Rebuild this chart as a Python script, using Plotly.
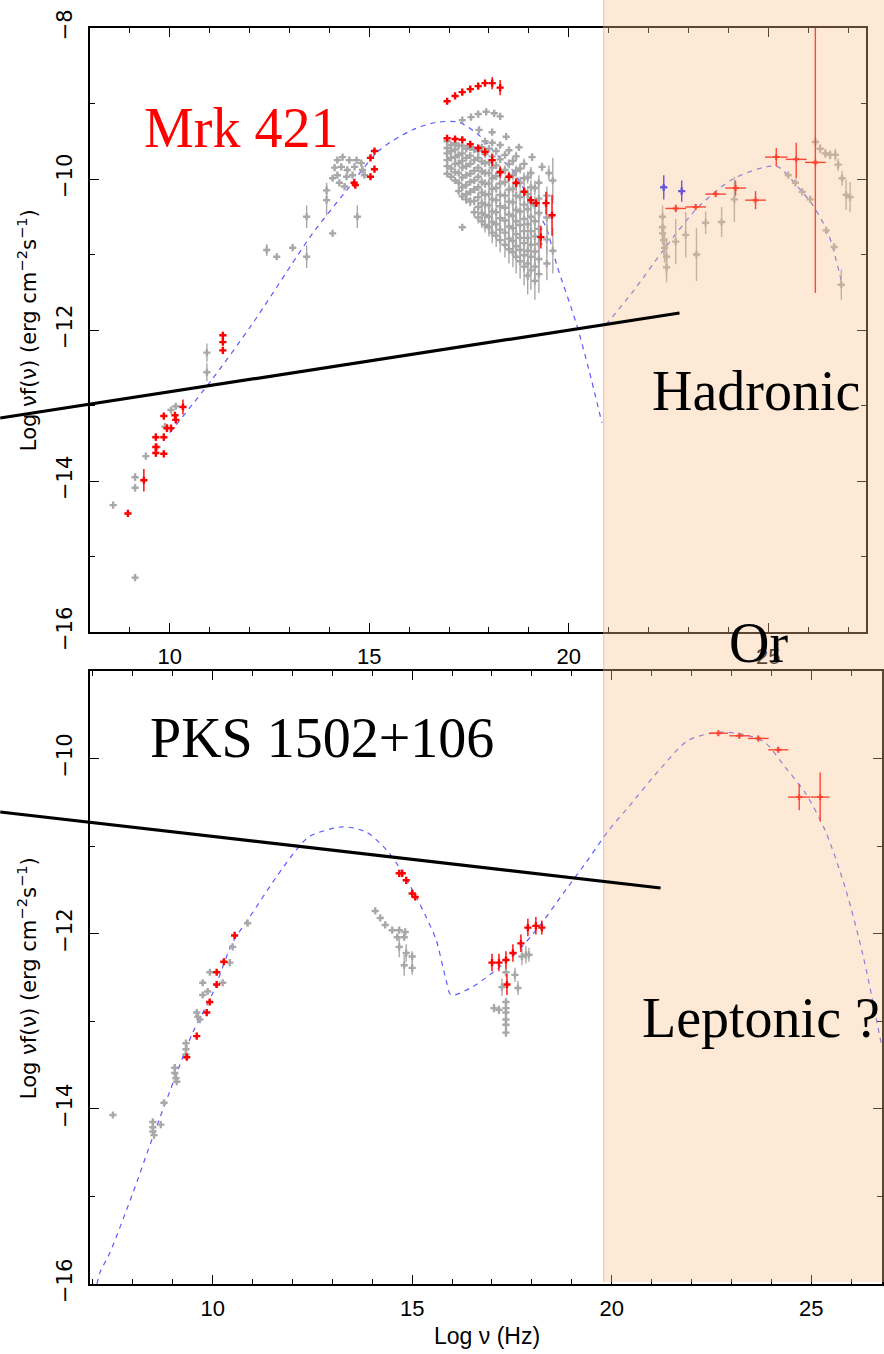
import plotly.graph_objects as go

W, H = 884, 1354
ML, MR, MT, MB = 90, 0, 28, 70
PW = W - ML - MR
PH = H - MT - MB


def px(xp):
    return (xp - ML) / PW


def py(yp):
    return (H - MB - yp) / PH


# ---------------- Mrk 421 (top panel) ----------------
# model curves (log nu, log nuFnu)
mrk_sync_x = [10.0, 11.08, 12.08, 13.18, 13.58, 14.43, 15.25, 16.08, 16.68, 17.25, 17.75,
              18.25, 18.58, 19.08, 19.43, 19.7, 20.18, 20.5, 20.83]
mrk_sync_y = [-13.36, -12.64, -11.91, -11.03, -10.72, -10.15, -9.62, -9.35, -9.25, -9.25, -9.42,
              -9.71, -9.88, -10.32, -10.64, -11.14, -11.9, -12.52, -13.23]
mrk_ic_x = [20.93, 21.58, 22.43, 23.25, 24.08, 24.93, 25.25, 25.75, 26.08, 26.5, 26.85]
mrk_ic_y = [-11.93, -11.51, -10.90, -10.37, -10.01, -9.84, -9.84, -10.11, -10.32, -10.72, -11.4]

# archival (grey) data: x, y, y-error
mrk_grey = [
    (8.58, -14.32, 0), (9.13, -13.95, 0.05), (9.13, -14.09, 0.05), (9.13, -15.28, 0),
    (9.4, -13.67, 0), (9.68, -13.55, 0), (9.88, -13.28, 0), (10.03, -13.06, 0), (10.15, -13.01, 0),
    (10.93, -12.3, 0.12), (10.93, -12.56, 0.12), (12.43, -10.94, 0.08), (12.68, -11.03, 0),
    (13.08, -10.91, 0), (13.43, -10.5, 0.15), (13.43, -11.03, 0.15), (13.93, -10.28, 0.2),
    (14.08, -10.72, 0), (14.7, -10.5, 0.15),
    (14.2, -9.75, 0.03), (14.33, -9.71, 0.03), (14.5, -9.75, 0.03), (14.68, -9.75, 0.03),
    (14.8, -9.79, 0.03), (14.13, -9.85, 0.03), (14.3, -9.84, 0.03), (14.45, -9.88, 0.03),
    (14.63, -9.84, 0.03), (14.83, -9.88, 0.03), (14.2, -9.95, 0.03), (14.43, -9.97, 0.03),
    (14.58, -9.95, 0.03), (14.25, -10.05, 0.03), (14.38, -10.1, 0.03), (14.08, -9.99, 0.03),
    (13.93, -10.15, 0.1), (14.88, -9.95, 0.03), (17.33, -10.64, 0),
    (17.33, -9.22, 0.02), (17.55, -9.18, 0.02), (17.73, -9.14, 0.02), (17.93, -9.11, 0.02),
    (18.13, -9.13, 0.02), (18.28, -9.17, 0.04),
    (17.75, -9.35, 0.03), (18.08, -9.38, 0.03), (18.43, -9.44, 0.03), (18.75, -9.58, 0.04),
    (19.08, -9.71, 0.05), (19.33, -9.84, 0.06), (19.5, -9.92, 0.1),
]
mrk_cloud_x = [
    16.95, 16.95, 16.95, 16.95, 16.95, 16.95,
    17.05, 17.05, 17.05, 17.05, 17.05,
    17.15, 17.15, 17.15, 17.15, 17.15, 17.15,
    17.24, 17.24, 17.24, 17.24, 17.24, 17.24,
    17.33, 17.33, 17.33, 17.33, 17.33, 17.33, 17.33,
    17.43, 17.43, 17.43, 17.43, 17.43, 17.43, 17.43,
    17.53, 17.53, 17.53, 17.53, 17.53, 17.53, 17.53,
    17.63, 17.63, 17.63, 17.63, 17.63, 17.63, 17.63,
    17.73, 17.73, 17.73, 17.73, 17.73, 17.73, 17.73, 17.73,
    17.82, 17.82, 17.82, 17.82, 17.82, 17.82, 17.82, 17.82,
    17.9, 17.9, 17.9, 17.9, 17.9, 17.9, 17.9, 17.9, 17.9,
    18.0, 18.0, 18.0, 18.0, 18.0, 18.0, 18.0, 18.0,
    18.08, 18.08, 18.08, 18.08, 18.08, 18.08, 18.08, 18.08, 18.08,
    18.18, 18.18, 18.18, 18.18, 18.18, 18.18, 18.18, 18.18,
    18.28, 18.28, 18.28, 18.28, 18.28, 18.28, 18.28, 18.28, 18.28,
    18.4, 18.4, 18.4, 18.4, 18.4, 18.4, 18.4, 18.4,
    18.5, 18.5, 18.5, 18.5, 18.5, 18.5, 18.5, 18.5, 18.5,
    18.6, 18.6, 18.6, 18.6, 18.6, 18.6, 18.6, 18.6,
    18.68, 18.68, 18.68, 18.68, 18.68, 18.68, 18.68, 18.68, 18.68,
    18.78, 18.78, 18.78, 18.78, 18.78, 18.78, 18.78, 18.78,
    18.88, 18.88, 18.88, 18.88, 18.88, 18.88, 18.88, 18.88, 18.88,
    18.97, 18.97, 18.97, 18.97, 18.97, 18.97, 18.97, 18.97,
    19.05, 19.05, 19.05, 19.05, 19.05, 19.05, 19.05, 19.05,
    19.15, 19.15, 19.15, 19.15, 19.15, 19.15, 19.15,
    19.25, 19.25, 19.25, 19.25, 19.25, 19.25, 19.25,
    19.45, 19.45, 19.45, 19.45, 19.6, 19.6,
]
mrk_cloud_y = [
    -9.50, -9.59, -9.66, -9.75, -9.83, -9.93,
    -9.55, -9.63, -9.72, -9.86, -9.97,
    -9.53, -9.61, -9.71, -9.80, -9.91, -10.02,
    -9.56, -9.68, -9.79, -9.92, -10.05, -10.16,
    -9.56, -9.66, -9.76, -9.85, -9.98, -10.11, -10.23,
    -9.60, -9.72, -9.83, -9.95, -10.08, -10.20, -10.27,
    -9.58, -9.69, -9.80, -9.93, -10.04, -10.17, -10.30,
    -9.61, -9.75, -9.89, -10.02, -10.14, -10.29, -10.44,
    -9.63, -9.72, -9.85, -9.97, -10.11, -10.24, -10.37, -10.51,
    -9.58, -9.77, -9.90, -10.04, -10.18, -10.32, -10.45, -10.56,
    -9.50, -9.67, -9.79, -9.92, -10.06, -10.21, -10.34, -10.48, -10.61,
    -9.60, -9.78, -9.92, -10.06, -10.20, -10.35, -10.50, -10.64,
    -9.52, -9.70, -9.85, -9.99, -10.13, -10.27, -10.43, -10.57, -10.71,
    -9.63, -9.82, -9.96, -10.12, -10.28, -10.44, -10.60, -10.75,
    -9.55, -9.74, -9.90, -10.06, -10.21, -10.36, -10.52, -10.67, -10.81,
    -9.68, -9.88, -10.04, -10.22, -10.38, -10.55, -10.71, -10.87,
    -9.62, -9.80, -9.97, -10.14, -10.30, -10.47, -10.63, -10.79, -10.93,
    -9.76, -9.95, -10.13, -10.31, -10.49, -10.65, -10.82, -10.97,
    -9.70, -9.89, -10.06, -10.22, -10.41, -10.56, -10.73, -10.89, -11.03,
    -9.86, -10.05, -10.24, -10.43, -10.61, -10.78, -10.94, -11.09,
    -9.80, -9.99, -10.16, -10.34, -10.53, -10.69, -10.85, -11.01, -11.16,
    -9.98, -10.20, -10.40, -10.60, -10.78, -10.95, -11.12, -11.28,
    -9.92, -10.11, -10.31, -10.50, -10.69, -10.87, -11.03, -11.21,
    -10.12, -10.35, -10.56, -10.76, -10.96, -11.16, -11.35,
    -10.05, -10.26, -10.45, -10.66, -10.86, -11.06, -11.26,
    -10.22, -10.51, -10.80, -11.12, -10.02, -10.95,
]
mrk_cloud_err = [
    0.03, 0.03, 0.03, 0.03, 0.03, 0.03,
    0.03, 0.03, 0.03, 0.03, 0.04,
    0.03, 0.03, 0.03, 0.03, 0.03, 0.04,
    0.03, 0.03, 0.03, 0.04, 0.04, 0.05,
    0.03, 0.03, 0.03, 0.03, 0.04, 0.04, 0.05,
    0.03, 0.03, 0.04, 0.04, 0.05, 0.05, 0.06,
    0.03, 0.03, 0.03, 0.04, 0.04, 0.05, 0.06,
    0.03, 0.03, 0.04, 0.05, 0.05, 0.06, 0.07,
    0.03, 0.03, 0.04, 0.04, 0.05, 0.06, 0.07, 0.08,
    0.03, 0.04, 0.04, 0.05, 0.06, 0.07, 0.08, 0.09,
    0.03, 0.03, 0.04, 0.05, 0.06, 0.07, 0.08, 0.09, 0.1,
    0.03, 0.04, 0.05, 0.06, 0.07, 0.08, 0.1, 0.12,
    0.03, 0.04, 0.05, 0.06, 0.07, 0.08, 0.1, 0.12, 0.14,
    0.04, 0.05, 0.06, 0.07, 0.08, 0.1, 0.12, 0.15,
    0.04, 0.05, 0.06, 0.07, 0.09, 0.1, 0.12, 0.14, 0.16,
    0.05, 0.06, 0.07, 0.08, 0.1, 0.12, 0.14, 0.17,
    0.05, 0.06, 0.07, 0.09, 0.1, 0.12, 0.15, 0.17, 0.19,
    0.06, 0.07, 0.08, 0.1, 0.12, 0.14, 0.17, 0.2,
    0.06, 0.07, 0.08, 0.1, 0.12, 0.14, 0.16, 0.19, 0.22,
    0.07, 0.08, 0.1, 0.12, 0.14, 0.16, 0.19, 0.23,
    0.07, 0.08, 0.1, 0.12, 0.14, 0.16, 0.19, 0.22, 0.25,
    0.08, 0.1, 0.12, 0.14, 0.16, 0.19, 0.22, 0.25,
    0.08, 0.1, 0.12, 0.14, 0.16, 0.19, 0.22, 0.26,
    0.1, 0.12, 0.14, 0.16, 0.19, 0.22, 0.25,
    0.1, 0.12, 0.14, 0.16, 0.19, 0.22, 0.25,
    0.12, 0.16, 0.2, 0.22, 0.3, 0.3,
]
# simultaneous (red) data
mrk_red = [
    (8.95, -14.43, 0.04), (9.35, -13.99, 0.15), (9.65, -13.42, 0.05), (9.65, -13.55, 0.05),
    (9.65, -13.63, 0.05), (9.85, -13.14, 0.04), (9.85, -13.42, 0.05), (9.85, -13.64, 0.04),
    (9.93, -13.3, 0.05), (10.03, -13.3, 0.04), (10.13, -13.13, 0.04), (10.15, -13.19, 0.04),
    (10.33, -13.02, 0.1), (11.33, -12.07, 0.04), (11.33, -12.16, 0.04), (11.33, -12.27, 0.04),
    (14.65, -10.08, 0.04), (14.62, -10.05, 0.04), (15.03, -9.97, 0.03), (15.13, -9.87, 0.03),
    (15.03, -9.72, 0.03), (15.13, -9.63, 0.03),
    (16.95, -8.97, 0.02), (17.15, -8.90, 0.02), (17.33, -8.85, 0.02), (17.53, -8.81, 0.02),
    (17.73, -8.77, 0.02), (17.9, -8.73, 0.03), (18.08, -8.73, 0.08), (18.28, -8.79, 0.1),
    (16.95, -9.46, 0.02), (17.15, -9.47, 0.02), (17.33, -9.48, 0.02), (17.53, -9.54, 0.03),
    (17.73, -9.59, 0.04), (17.9, -9.64, 0.05), (18.08, -9.75, 0.08), (18.28, -9.91, 0.08),
    (18.5, -9.97, 0.06), (18.68, -10.05, 0.06), (18.88, -10.17, 0.06), (19.05, -10.28, 0.05),
    (19.18, -10.32, 0.05), (19.43, -10.32, 0.15), (19.3, -10.77, 0.15), (19.58, -10.48, 0.27),
]
# gamma-ray data: x, y, x-error, y-error minus, y-error plus
mrk_gamma_red = [
    (22.68, -10.39, 0.26, 0.05, 0.05), (23.18, -10.37, 0.26, 0.04, 0.04),
    (23.68, -10.20, 0.26, 0.04, 0.04), (24.18, -10.12, 0.26, 0.1, 0.1),
    (24.68, -10.28, 0.26, 0.12, 0.12), (25.2, -9.71, 0.28, 0.12, 0.12),
    (25.7, -9.74, 0.26, 0.25, 0.22), (26.18, -9.78, 0.26, 1.73, 1.78),
]
mrk_gamma_blue = [(22.38, -10.11, 0.16), (22.83, -10.16, 0.14)]
mrk_gamma_grey = [
    (22.35, -10.50, 0.15), (22.35, -10.64, 0.15), (22.35, -10.72, 0.15), (22.38, -10.81, 0.2),
    (22.4, -10.91, 0.2), (22.45, -11.03, 0.25), (22.45, -11.17, 0.2), (22.68, -10.83, 0.3),
    (22.93, -10.74, 0.3), (23.2, -11.0, 0.35), (23.43, -10.58, 0.15), (23.83, -10.57, 0.2),
    (24.15, -10.27, 0.3), (25.5, -9.95, 0.04), (25.68, -10.05, 0.04), (25.85, -10.17, 0.04),
    (26.05, -10.27, 0.04), (26.18, -9.51, 0.06), (26.3, -9.60, 0.06), (26.43, -9.66, 0.06),
    (26.55, -9.68, 0.06), (26.68, -9.68, 0.08), (26.75, -9.81, 0.08), (26.85, -9.99, 0.1),
    (26.95, -10.21, 0.2), (27.05, -10.24, 0.2), (26.45, -10.68, 0.04), (26.65, -10.9, 0.05),
    (26.83, -11.4, 0.2),
]

# ---------------- PKS 1502+106 (bottom panel) ----------------
pks_model_x = [7.1, 7.175, 7.425, 8.0, 8.5, 9.1, 9.5, 10.0, 10.5, 10.925, 11.6, 12.1, 12.425,
               13.25, 13.85, 14.35, 14.675, 15.1, 15.35, 15.6, 15.85, 15.975, 16.5, 17.0,
               17.6, 18.175, 18.85, 19.35, 19.925, 20.425, 21.25, 21.925, 22.675, 23.35,
               23.85, 24.35, 24.85, 25.35, 25.85, 26.3, 26.775]
pks_model_y = [-16.0, -15.87, -15.64, -14.96, -14.32, -13.59, -13.13, -12.68, -12.10, -11.81,
               -11.35, -11.04, -10.89, -10.78, -10.84, -11.04, -11.24, -11.58, -11.81, -12.07,
               -12.53, -12.70, -12.61, -12.45, -12.22, -11.92, -11.50, -11.19, -10.82,
               -10.55, -10.10, -9.79, -9.70, -9.73, -9.82, -10.10, -10.39, -10.82, -11.47,
               -12.25, -13.3]
pks_grey = [
    (7.5, -14.07, 0), (8.5, -14.15, 0.04), (8.5, -14.21, 0.04), (8.5, -14.26, 0.04),
    (8.53, -14.30, 0.04), (8.7, -14.18, 0), (8.78, -13.93, 0), (9.05, -13.53, 0.03),
    (9.05, -13.59, 0.03), (9.08, -13.65, 0.03), (9.1, -13.69, 0.03), (9.33, -13.25, 0.03),
    (9.33, -13.32, 0.03), (9.33, -13.38, 0.03), (9.6, -12.9, 0.03), (9.63, -12.95, 0.03),
    (9.68, -12.98, 0.03), (9.75, -12.7, 0), (9.875, -12.66, 0), (10.25, -12.56, 0),
    (10.43, -12.33, 0), (9.93, -12.44, 0), (9.75, -12.56, 0), (10.5, -12.15, 0),
    (10.875, -11.88, 0),
    (14.075, -11.74, 0), (14.2, -11.82, 0), (14.325, -11.9, 0), (14.5, -11.96, 0),
    (14.675, -11.96, 0), (14.825, -11.98, 0), (14.625, -12.04, 0), (14.8, -12.04, 0),
    (14.675, -12.15, 0.12), (14.85, -12.22, 0.1), (15.0, -12.26, 0.06), (14.8, -12.36, 0.12),
    (15.0, -12.39, 0.08),
    (17.35, -12.44, 0.05), (17.25, -12.61, 0.1), (17.575, -12.47, 0.08), (17.65, -12.62, 0.08),
    (17.75, -12.26, 0.1), (17.85, -12.24, 0.1), (17.925, -12.24, 0.08), (17.35, -12.78, 0.05),
    (17.35, -12.85, 0.05), (17.35, -12.9, 0.05), (17.35, -12.98, 0.05), (17.35, -13.04, 0.05),
    (17.35, -13.13, 0.05), (17.05, -12.85, 0.05), (17.175, -12.87, 0.05),
]
pks_red = [
    (9.35, -13.41, 0.03), (9.6, -13.17, 0.03), (9.85, -12.9, 0.03), (9.925, -12.78, 0.03),
    (10.1, -12.58, 0.03), (10.1, -12.44, 0.03), (10.28, -12.32, 0.03), (10.55, -12.02, 0.04),
    (14.675, -11.31, 0.03), (14.75, -11.31, 0.03), (14.85, -11.39, 0.03), (15.0, -11.54, 0.03),
    (15.075, -11.58, 0.03), (17.0, -12.33, 0.1), (17.175, -12.33, 0.1), (17.35, -12.30, 0.1),
    (17.525, -12.22, 0.1), (17.725, -12.11, 0.1), (17.9, -11.93, 0.1), (18.1, -11.91, 0.1),
    (18.25, -11.93, 0.08), (17.375, -12.58, 0.12),
]
pks_gamma_red = [
    (22.675, -9.71, 0.24, 0.03), (23.2, -9.74, 0.25, 0.03), (23.675, -9.77, 0.26, 0.03),
    (24.175, -9.90, 0.25, 0.03), (24.7, -10.44, 0.28, 0.15), (25.225, -10.44, 0.23, 0.28),
]

GREY = "#a8a8a8"
RED = "#ff0000"
BLUE = "#1a1aff"
MODEL = "#5a5aff"

fig = go.Figure()


def add_points(x, y, ey, color, xa, ya, ex=None, ey_minus=None, size=6, symbol="cross"):
    err_y = dict(type="data", array=ey, visible=True, color=color, thickness=1.4, width=0)
    if ey_minus is not None:
        err_y["arrayminus"] = ey_minus
        err_y["symmetric"] = False
    tr = dict(x=x, y=y, mode="markers", xaxis=xa, yaxis=ya,
              marker=dict(symbol=symbol, size=size, color=color, line=dict(width=0)),
              error_y=err_y, showlegend=False, hoverinfo="skip")
    if ex is not None:
        tr["error_x"] = dict(type="data", array=ex, visible=True, color=color, thickness=1.4, width=0)
    fig.add_trace(go.Scatter(**tr))


def col(rows, i):
    return [r[i] for r in rows]


# model curves
for xs, ys, xa, ya in [(mrk_sync_x, mrk_sync_y, "x", "y"), (mrk_ic_x, mrk_ic_y, "x", "y"),
                       (pks_model_x, pks_model_y, "x2", "y2")]:
    fig.add_trace(go.Scatter(x=xs, y=ys, mode="lines", xaxis=xa, yaxis=ya,
                             line=dict(color=MODEL, width=1.2, dash="5px,5px", shape="spline",
                                       smoothing=0.8),
                             showlegend=False, hoverinfo="skip"))

# top panel points
add_points(col(mrk_grey, 0), col(mrk_grey, 1), col(mrk_grey, 2), GREY, "x", "y")
add_points(mrk_cloud_x, mrk_cloud_y, mrk_cloud_err, GREY, "x", "y")
add_points(col(mrk_gamma_grey, 0), col(mrk_gamma_grey, 1), col(mrk_gamma_grey, 2), GREY, "x", "y")
add_points(col(mrk_red, 0), col(mrk_red, 1), col(mrk_red, 2), RED, "x", "y", size=6)
add_points(col(mrk_gamma_red, 0), col(mrk_gamma_red, 1), col(mrk_gamma_red, 4), RED, "x", "y",
           ex=col(mrk_gamma_red, 2), ey_minus=col(mrk_gamma_red, 3), size=5)
add_points(col(mrk_gamma_blue, 0), col(mrk_gamma_blue, 1), col(mrk_gamma_blue, 2), BLUE, "x", "y",
           size=6)

# bottom panel points
add_points(col(pks_grey, 0), col(pks_grey, 1), col(pks_grey, 2), GREY, "x2", "y2")
add_points(col(pks_red, 0), col(pks_red, 1), col(pks_red, 2), RED, "x2", "y2", size=6)
add_points(col(pks_gamma_red, 0), col(pks_gamma_red, 1), col(pks_gamma_red, 3), RED, "x2", "y2",
           ex=col(pks_gamma_red, 2), size=5)

SERIF = "Liberation Serif, Times New Roman, serif"
SANS = "Liberation Sans, Arial, sans-serif"
WIDE = "DejaVu Sans, Liberation Sans, sans-serif"

axis_common = dict(
    showgrid=False, zeroline=False, showline=True, linecolor="black", linewidth=1.5,
    mirror="ticks", ticks="inside", ticklen=9, tickwidth=1.3, tickcolor="black",
)
xfont = dict(family=SANS, size=22, color="black")
yfont = dict(family=WIDE, size=21, color="black")
xminor = dict(ticks="inside", ticklen=5, tickwidth=1.3, tickcolor="black", dtick=1, tick0=0)
yminor = dict(ticks="inside", ticklen=5, tickwidth=1.3, tickcolor="black", dtick=1, tick0=0)

fig.update_layout(
    width=W, height=H,
    margin=dict(l=ML, r=MR, t=MT, b=MB),
    paper_bgcolor="white", plot_bgcolor="white",
    showlegend=False,
    xaxis=dict(**axis_common, domain=[0, px(868)], range=[8, 27.45], tick0=0, dtick=5,
               minor=xminor, anchor="y", ticklabelstandoff=4, tickfont=xfont),
    yaxis=dict(**axis_common, domain=[py(632), 1], range=[-16, -8], tick0=0, dtick=2,
               minor=yminor, anchor="x", tickangle=-90, ticklabelstandoff=8, tickfont=yfont),
    xaxis2=dict(**axis_common, domain=[0, 1], range=[6.925, 26.775], tick0=0, dtick=5,
                minor=xminor, anchor="y2", ticklabelstandoff=4, tickfont=xfont),
    yaxis2=dict(**axis_common, domain=[0, py(671)], range=[-16, -9], tick0=0, dtick=2,
                minor=yminor, anchor="x2", tickangle=-90, ticklabelstandoff=8, tickfont=yfont),
)

# shaded gamma-ray band (drawn over everything, translucent)
shapes = [
    dict(type="rect", xref="paper", yref="paper", x0=px(605), x1=px(886), y0=py(1282), y1=py(-2),
         fillcolor="rgba(249,194,139,0.36)", line=dict(width=0), layer="above"),
    dict(type="line", xref="paper", yref="paper", x0=px(605), x1=px(605), y0=py(1282), y1=py(-2),
         line=dict(color="rgba(190,160,130,0.55)", width=1), layer="above"),
    dict(type="line", xref="paper", yref="paper", x0=px(0), y0=py(418), x1=px(681), y1=py(313),
         line=dict(color="black", width=3.2), layer="above"),
    dict(type="line", xref="paper", yref="paper", x0=px(0), y0=py(812), x1=px(662), y1=py(888),
         line=dict(color="black", width=3.2), layer="above"),
]
fig.update_layout(shapes=shapes)


def note(text, xc, yc, size=56, color="black", family=SERIF, angle=0):
    fig.add_annotation(text=text, xref="paper", yref="paper", x=px(xc), y=py(yc),
                       xanchor="center", yanchor="middle", showarrow=False, textangle=angle,
                       font=dict(family=family, size=size, color=color))


note("Mrk 421", 241, 128, color="red")
note("Hadronic", 758, 391)
note("Or", 760, 643)
note("PKS 1502+106", 323, 738)
note("Leptonic ?", 763, 1018)

ytitle = "Log \u03bdf(\u03bd) (erg cm<sup>\u22122</sup>s<sup>\u22121</sup>)"
note(ytitle, 27, 330, size=21, family=WIDE, angle=-90)
note(ytitle, 27, 978, size=21, family=WIDE, angle=-90)
note("Log \u03bd (Hz)", 488, 1336, size=23, family=SANS)

fig.write_html(
    "out.html",
    config={"displayModeBar": False},
    post_script="document.body.style.margin='0';document.body.style.padding='0';"
                "document.body.style.overflow='hidden';",
)
